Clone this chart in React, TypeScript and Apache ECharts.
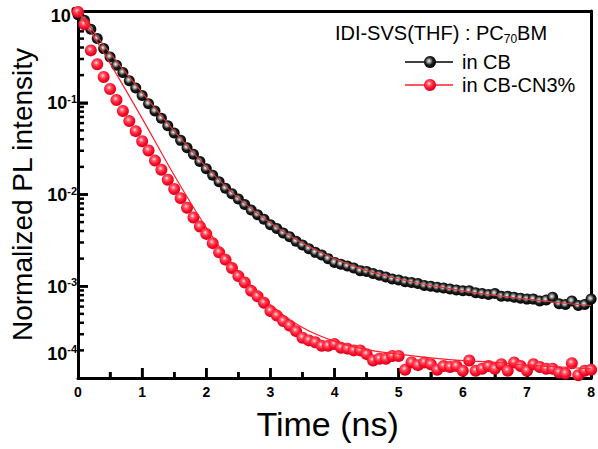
import React, { useEffect, useRef } from "react";
import * as echarts from "echarts";

const FONT = "'Liberation Sans', Arial, Helvetica, sans-serif";

// Time axis (ns) of the measured points
const times = [
  0.0, 0.1, 0.2, 0.3, 0.4, 0.5, 0.6, 0.7, 0.8, 0.9,
  1.0, 1.1, 1.2, 1.3, 1.4, 1.5, 1.6, 1.7, 1.8, 1.9,
  2.0, 2.1, 2.2, 2.3, 2.4, 2.5, 2.6, 2.7, 2.8, 2.9,
  3.0, 3.1, 3.2, 3.3, 3.4, 3.5, 3.6, 3.7, 3.8, 3.9,
  4.0, 4.1, 4.2, 4.3, 4.4, 4.5, 4.6, 4.7, 4.8, 4.9,
  5.0, 5.1, 5.2, 5.3, 5.4, 5.5, 5.6, 5.7, 5.8, 5.9,
  6.0, 6.1, 6.2, 6.3, 6.4, 6.5, 6.6, 6.7, 6.8, 6.9,
  7.0, 7.1, 7.2, 7.3, 7.4, 7.5, 7.6, 7.7, 7.8, 7.9,
  8.0,
];

// "in CB" normalized PL intensity
const inCB = [
  9.12e-1, 7.94e-1, 6.31e-1, 5.01e-1, 3.89e-1, 3.16e-1, 2.57e-1, 2.14e-1, 1.74e-1, 1.45e-1,
  1.20e-1, 9.77e-2, 8.13e-2, 6.76e-2, 5.62e-2, 4.68e-2, 3.89e-2, 3.24e-2, 2.75e-2, 2.29e-2,
  1.91e-2, 1.62e-2, 1.38e-2, 1.17e-2, 1.02e-2, 8.91e-3, 7.76e-3, 6.76e-3, 6.03e-3, 5.37e-3,
  4.68e-3, 4.27e-3, 3.80e-3, 3.47e-3, 3.09e-3, 2.82e-3, 2.57e-3, 2.34e-3, 2.19e-3, 2.00e-3,
  1.82e-3, 1.74e-3, 1.66e-3, 1.58e-3, 1.48e-3, 1.45e-3, 1.38e-3, 1.32e-3, 1.26e-3, 1.20e-3,
  1.17e-3, 1.12e-3, 1.10e-3, 1.07e-3, 1.02e-3, 1.00e-3, 9.77e-4, 9.55e-4, 9.33e-4, 9.12e-4,
  8.91e-4, 8.91e-4, 8.51e-4, 8.32e-4, 8.13e-4, 8.32e-4, 7.76e-4, 7.76e-4, 7.59e-4, 7.41e-4,
  7.24e-4, 7.24e-4, 6.92e-4, 7.08e-4, 7.59e-4, 6.46e-4, 6.31e-4, 6.92e-4, 6.17e-4, 6.31e-4,
  7.24e-4,
];

// "in CB-CN3%" normalized PL intensity
const inCBCN = [
  9.77e-1, 7.16e-1, 3.72e-1, 2.63e-1, 1.91e-1, 1.41e-1, 1.07e-1, 8.13e-2, 6.31e-2, 4.90e-2,
  3.80e-2, 3.02e-2, 2.34e-2, 1.86e-2, 1.45e-2, 1.15e-2, 9.12e-3, 7.16e-3, 5.62e-3, 4.47e-3,
  3.72e-3, 2.95e-3, 2.34e-3, 1.95e-3, 1.58e-3, 1.29e-3, 1.10e-3, 8.91e-4, 7.76e-4, 6.61e-4,
  5.37e-4, 4.79e-4, 4.17e-4, 3.72e-4, 3.24e-4, 2.75e-4, 2.57e-4, 2.45e-4, 2.24e-4, 2.24e-4,
  2.34e-4, 2.14e-4, 2.09e-4, 2.00e-4, 2.00e-4, 1.82e-4, 1.55e-4, 1.62e-4, 1.62e-4, 1.74e-4,
  1.74e-4, 1.23e-4, 1.48e-4, 1.38e-4, 1.48e-4, 1.41e-4, 1.23e-4, 1.35e-4, 1.32e-4, 1.35e-4,
  1.20e-4, 1.55e-4, 1.20e-4, 1.26e-4, 1.35e-4, 1.26e-4, 1.41e-4, 1.20e-4, 1.48e-4, 1.35e-4,
  1.20e-4, 1.41e-4, 1.32e-4, 1.26e-4, 1.26e-4, 1.15e-4, 1.12e-4, 1.45e-4, 1.07e-4, 1.20e-4,
  1.23e-4,
];

// Fit curves
const fitTimes = [0, 0.5, 1.0, 1.5, 2.0, 2.5, 3.0, 3.5, 4.0, 4.5, 5.0, 5.5, 6.0, 6.5, 7.0, 7.5, 8.0];
const fitCB = [
  1.0, 3.47e-1, 1.29e-1, 4.90e-2, 2.00e-2, 9.12e-3, 4.90e-3, 2.95e-3, 2.00e-3,
  1.48e-3, 1.20e-3, 1.02e-3, 8.91e-4, 7.94e-4, 7.24e-4, 6.61e-4, 6.17e-4,
];
const fitCBCN = [
  1.0, 2.69e-1, 6.76e-2, 1.62e-2, 4.37e-3, 1.45e-3, 6.31e-4, 3.55e-4, 2.51e-4,
  2.04e-4, 1.82e-4, 1.66e-4, 1.55e-4, 1.48e-4, 1.38e-4, 1.32e-4, 1.26e-4,
];

// Tick positions
const xMajorTicks = [1, 2, 3, 4, 5, 6, 7];
const xMinorTicks = [0.5, 1.5, 2.5, 3.5, 4.5, 5.5, 6.5, 7.5];
const yMajorTicks = [1e-3, 1e-2, 1e-1];
const yMinorTicks = [
  2e-4, 3e-4, 4e-4, 5e-4, 6e-4, 7e-4, 8e-4, 9e-4,
  2e-3, 3e-3, 4e-3, 5e-3, 6e-3, 7e-3, 8e-3, 9e-3,
  2e-2, 3e-2, 4e-2, 5e-2, 6e-2, 7e-2, 8e-2, 9e-2,
  2e-1, 3e-1, 4e-1, 5e-1, 6e-1, 7e-1, 8e-1, 9e-1,
];

const seriesNames = ["in CB", "in CB-CN3%"];

const blackBall = () =>
  new echarts.graphic.RadialGradient(0.42, 0.42, 0.6, [
    { offset: 0, color: "#f4f4f4" },
    { offset: 0.25, color: "#9a9a9a" },
    { offset: 0.55, color: "#1c1c1c" },
    { offset: 1, color: "#000000" },
  ]);
const redBall = () =>
  new echarts.graphic.RadialGradient(0.42, 0.38, 0.62, [
    { offset: 0, color: "#ffe4ea" },
    { offset: 0.28, color: "#ff5a6a" },
    { offset: 0.65, color: "#ff0f2c" },
    { offset: 1, color: "#d4001a" },
  ]);

export default function App() {
  const ref = useRef<HTMLDivElement>(null);
  useEffect(() => {
    if (!ref.current) return;
    const chart = echarts.init(ref.current, undefined, { renderer: "svg" });
    const frameLine = () => ({ show: true, onZero: false, lineStyle: { color: "#000", width: 3 } });
    const X_MIN = 0;
    const Y_MIN = 1e-4;
    // rows: [x, y, tickLength, direction(0 = up from x axis, 1 = right from y axis)]
    const tickRows = [
      ...xMajorTicks.map((v) => [v, Y_MIN, 10, 0]),
      ...xMinorTicks.map((v) => [v, Y_MIN, 6, 0]),
      ...yMajorTicks.map((v) => [X_MIN, v, 10, 1]),
      ...yMinorTicks.map((v) => [X_MIN, v, 6, 1]),
    ];
    const option: any = {
      animation: false,
      backgroundColor: "#ffffff",
      grid: { left: 72, right: 5, top: 11, bottom: 71, show: false },
      xAxis: [
        {
          type: "value",
          position: "bottom",
          min: 0,
          max: 8,
          interval: 1,
          axisLine: frameLine(),
          axisTick: { show: true, inside: true, length: 10, lineStyle: { color: "#000", width: 2.5 } },
          minorTick: { show: true, splitNumber: 2, length: 6, lineStyle: { color: "#000", width: 2.5 } },
          splitLine: { show: false },
          minorSplitLine: { show: false },
          axisLabel: {
            show: true,
            color: "#000",
            fontFamily: FONT,
            fontWeight: "bold",
            fontSize: 14,
            margin: 7,
          },
          name: "Time (ns)",
          nameLocation: "middle",
          nameGap: 29,
          nameTextStyle: { fontSize: 34, fontFamily: FONT, color: "#000", padding: [0, 14, 0, 0] },
        },
        {
          type: "value",
          position: "top",
          min: 0,
          max: 8,
          axisLine: frameLine(),
          axisTick: { show: false },
          axisLabel: { show: false },
          splitLine: { show: false },
        },
      ],
      yAxis: [
        {
          type: "log",
          logBase: 10,
          position: "left",
          min: 1e-4,
          max: 1,
          axisLine: frameLine(),
          axisTick: { show: true, inside: true, length: 10, lineStyle: { color: "#000", width: 2.5 } },
          splitLine: { show: false },
          axisLabel: {
            show: true,
            margin: 1,
            formatter: (v: number) => {
              const e = Math.round(Math.log10(v));
              if (e === 0) return "{g0| }\n{b|10}{s|0}";
              if (e === -4) return "{b|10}{s|-4}\n{g4| }";
              return "{b|10}{s|" + e + "}";
            },
            rich: {
              b: { fontSize: 18, fontWeight: "bold", fontFamily: FONT, color: "#000", lineHeight: 19, verticalAlign: "bottom" },
              s: { fontSize: 11, fontWeight: "bold", fontFamily: FONT, color: "#000", lineHeight: 11, verticalAlign: "top" },
              g0: { fontSize: 2, lineHeight: 8 },
              g4: { fontSize: 2, lineHeight: 50 },
            },
          },
          name: "Normalized PL intensity",
          nameLocation: "middle",
          nameGap: 42,
          nameTextStyle: { fontSize: 28, fontFamily: FONT, color: "#000" },
        },
        {
          type: "value",
          position: "right",
          min: 0,
          max: 1,
          axisLine: frameLine(),
          axisTick: { show: false },
          axisLabel: { show: false },
          splitLine: { show: false },
        },
      ],
      series: [
        {
          name: seriesNames[0],
          type: "scatter",
          data: times.map((t, i) => [t, inCB[i]]),
          symbolSize: 11,
          itemStyle: { color: blackBall(), opacity: 1 },
          z: 2,
        },
        {
          name: seriesNames[1],
          type: "scatter",
          data: times.map((t, i) => [t, inCBCN[i]]),
          symbolSize: 12,
          itemStyle: { color: redBall(), opacity: 1 },
          z: 3,
        },
        {
          type: "line",
          data: fitTimes.map((t, i) => [t, fitCB[i]]),
          showSymbol: false,
          smooth: 0.3,
          lineStyle: { color: "#d63a3a", width: 1.2 },
          z: 4,
        },
        {
          type: "line",
          data: fitTimes.map((t, i) => [t, fitCBCN[i]]),
          showSymbol: false,
          smooth: 0.3,
          lineStyle: { color: "#ff1f2a", width: 1.2 },
          z: 4,
        },
        {
          // inside axis ticks, placed through the axes' scales
          type: "custom",
          silent: true,
          clip: false,
          z: 1,
          encode: { x: 0, y: 1 },
          data: tickRows,
          renderItem: (_params: any, api: any) => {
            const p = api.coord([api.value(0), api.value(1)]);
            const len = Number(api.value(2));
            const dir = Number(api.value(3));
            const shape =
              dir === 0
                ? { x1: p[0], y1: p[1], x2: p[0], y2: p[1] - len }
                : { x1: p[0], y1: p[1], x2: p[0] + len, y2: p[1] };
            return { type: "line", shape, style: { stroke: "#000", lineWidth: 2.5 } };
          },
        },
      ],
      graphic: [
        {
          type: "text",
          x: 441,
          y: 33,
          style: {
            text: "{t|IDI-SVS(THF) : PC}{u|70}{t|BM}",
            align: "center",
            verticalAlign: "middle",
            textAlign: "center",
            textVerticalAlign: "middle",
            rich: {
              t: { fontSize: 20, fontFamily: FONT, fill: "#000", color: "#000", lineHeight: 24, verticalAlign: "middle" },
              u: { fontSize: 12, fontFamily: FONT, fill: "#000", color: "#000", lineHeight: 12, verticalAlign: "bottom" },
            },
          },
        },
        { type: "line", shape: { x1: 405, y1: 62, x2: 453, y2: 62 }, style: { stroke: "#000", lineWidth: 1.5 } },
        { type: "circle", shape: { cx: 430, cy: 62, r: 6 }, style: { fill: blackBall() } },
        {
          type: "text",
          x: 462,
          y: 62,
          style: { text: seriesNames[0], fontSize: 20, fontFamily: FONT, fill: "#000", verticalAlign: "middle", textVerticalAlign: "middle" },
        },
        { type: "line", shape: { x1: 405, y1: 85, x2: 453, y2: 85 }, style: { stroke: "#ff1f2a", lineWidth: 1.5 } },
        { type: "circle", shape: { cx: 430, cy: 85, r: 6 }, style: { fill: redBall() } },
        {
          type: "text",
          x: 462,
          y: 85,
          style: { text: seriesNames[1], fontSize: 20, fontFamily: FONT, fill: "#000", verticalAlign: "middle", textVerticalAlign: "middle" },
        },
      ],
    };
    chart.setOption(option);
    return () => chart.dispose();
  }, []);
  return (
    <div
      ref={ref}
      style={{ position: "fixed", left: 0, top: 0, width: 598, height: 449, background: "#fff" }}
    />
  );
}
